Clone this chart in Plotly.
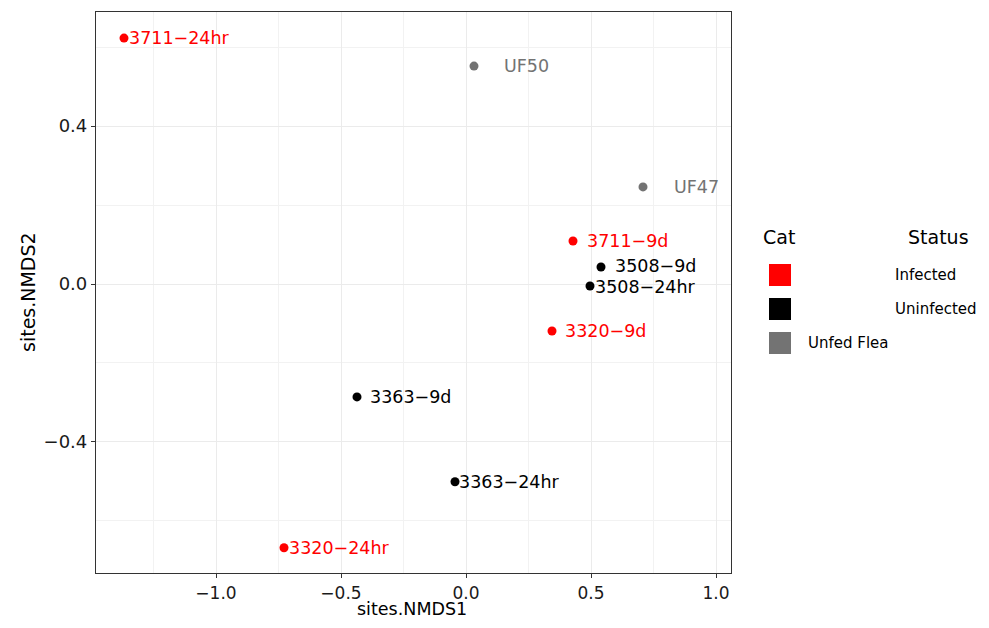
import plotly.graph_objects as go

# Data
samples = ["3711\u221224hr", "UF50", "UF47", "3711\u22129d", "3508\u22129d", "3508\u221224hr",
           "3320\u22129d", "3363\u22129d", "3363\u221224hr", "3320\u221224hr"]
nmds1 = [-1.368, 0.032, 0.708, 0.428, 0.540, 0.496, 0.344, -0.436, -0.044, -0.728]
nmds2 = [0.623, 0.552, 0.246, 0.109, 0.043, -0.005, -0.119, -0.286, -0.501, -0.668]
cats = ["Infected", "Unfed Flea", "Unfed Flea", "Infected", "Uninfected", "Uninfected",
        "Infected", "Uninfected", "Uninfected", "Infected"]
label_shift = [3, 28, 29, 12, 12, 3, 11, 11, 2, 3]
label_yshift = [0, 0, 0, 0, 1, -1, 0, 0, 0, 0]

x_ticks = [-1.0, -0.5, 0.0, 0.5, 1.0]
x_ticktext = ["\u22121.0", "\u22120.5", "0.0", "0.5", "1.0"]
y_ticks = [-0.4, 0.0, 0.4]
y_ticktext = ["\u22120.4", "0.0", "0.4"]

cat_colors = {"Infected": "#FF0000", "Uninfected": "#000000", "Unfed Flea": "#737373"}
colors = [cat_colors[c] for c in cats]

FONT = "DejaVu Sans"
OFF = 8  # page body margin
W, H = 989 - 2 * OFF, 628 - 2 * OFF
ml, mt = 96 - OFF, 12 - OFF
pw, ph = 635, 561
mr, mb = W - ml - pw, H - mt - ph

def px(x):
    # screen x -> paper
    return (x - OFF - ml) / pw

def py(y):
    return (mt + ph - (y - OFF)) / ph

fig = go.Figure()
fig.add_trace(go.Scatter(x=nmds1, y=nmds2, mode="markers",
                         marker=dict(color=colors, size=9),
                         showlegend=False, hoverinfo="text", text=samples))

annotations = []
for s, x, y, c, sh, ysh in zip(samples, nmds1, nmds2, colors, label_shift, label_yshift):
    annotations.append(dict(x=x, y=y, text=s, showarrow=False, xanchor="left",
                            yanchor="middle", xshift=sh, yshift=ysh,
                            font=dict(size=17.5, color=c, family=FONT)))

# Axis titles
annotations.append(dict(xref="paper", yref="paper", x=px(412), y=py(620), text="sites.NMDS1",
                        showarrow=False, xanchor="center", yanchor="bottom", borderpad=0,
                        font=dict(size=17.5, color="#000000", family=FONT)))
annotations.append(dict(xref="paper", yref="paper", x=px(28), y=py(292), text="sites.NMDS2",
                        showarrow=False, xanchor="center", yanchor="middle", textangle=-90,
                        font=dict(size=19, color="#000000", family=FONT)))

# Custom legend
shapes = []
legend_items = [("Infected", 264, 895), ("Uninfected", 298, 895), ("Unfed Flea", 332, 808)]
for name, ytop, lx in legend_items:
    shapes.append(dict(type="rect", xref="paper", yref="paper",
                       x0=px(769), x1=px(791), y0=py(ytop + 22), y1=py(ytop),
                       fillcolor=cat_colors[name], line=dict(width=0)))
    annotations.append(dict(xref="paper", yref="paper", x=px(lx - 2), y=py(ytop + 11),
                            text=name, showarrow=False, xanchor="left", yanchor="middle",
                            font=dict(size=15, color="#000000", family=FONT)))
annotations.append(dict(xref="paper", yref="paper", x=px(761), y=py(237), text="Cat",
                        showarrow=False, xanchor="left", yanchor="middle",
                        font=dict(size=19, color="#000000", family=FONT)))
annotations.append(dict(xref="paper", yref="paper", x=px(906), y=py(237), text="Status",
                        showarrow=False, xanchor="left", yanchor="middle",
                        font=dict(size=19, color="#000000", family=FONT)))

axis_common = dict(showgrid=True, gridcolor="#EBEBEB", gridwidth=1.1,
                   zeroline=False, showline=True, mirror=True, linecolor="#333333",
                   linewidth=1.2, ticks="outside", ticklen=4, tickcolor="#333333")

fig.update_layout(
    width=W, height=H,
    margin=dict(l=ml, r=mr, t=mt, b=mb, autoexpand=False),
    paper_bgcolor="white", plot_bgcolor="white",
    font=dict(family=FONT),
    xaxis=dict(range=[-1.48, 1.06], tickvals=x_ticks, ticktext=x_ticktext,
               tickfont=dict(size=17, color="#1a1a1a", family=FONT),
               minor=dict(tickvals=[-1.25, -0.75, -0.25, 0.25, 0.75], ticks="",
                          showgrid=True, gridcolor="#F2F2F2", gridwidth=0.6),
               **axis_common),
    yaxis=dict(range=[-0.732, 0.689], tickvals=y_ticks, ticktext=y_ticktext,
               tickfont=dict(size=18, color="#1a1a1a", family=FONT),
               minor=dict(tickvals=[-0.6, -0.2, 0.2, 0.6], ticks="",
                          showgrid=True, gridcolor="#F2F2F2", gridwidth=0.6),
               **axis_common),
    annotations=annotations, shapes=shapes,
)

fig.write_html("out.html")
